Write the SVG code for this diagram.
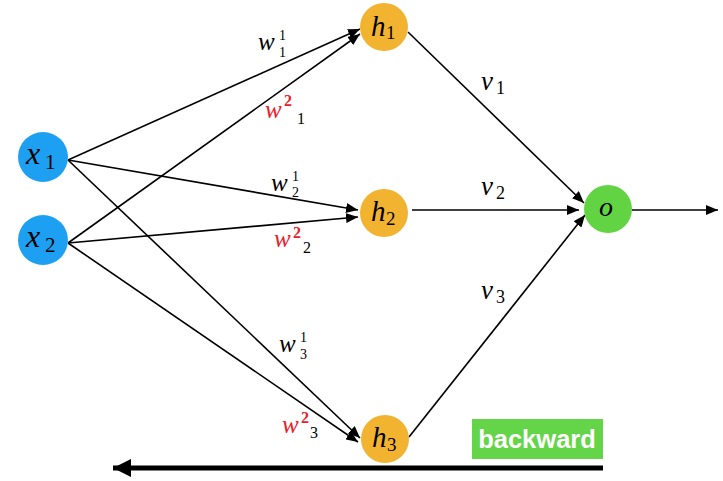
<svg xmlns="http://www.w3.org/2000/svg" width="723" height="481" viewBox="0 0 723 481">
<defs>
<marker id="ah" markerUnits="userSpaceOnUse" markerWidth="12" markerHeight="10" refX="12" refY="5" orient="auto">
<path d="M0,0 L12,5 L0,10 Z" fill="#000"/>
</marker>
<marker id="bh" markerUnits="userSpaceOnUse" markerWidth="18" markerHeight="18" refX="18" refY="9" orient="auto">
<path d="M0,0 L18,9 L0,18 Z" fill="#000"/>
</marker>
<style>
.e{stroke:#000;stroke-width:1.6;fill:none;marker-end:url(#ah)}
.m{font-family:"Liberation Serif","DejaVu Serif",serif;font-style:italic;fill:#000}
.d{font-family:"Liberation Serif","DejaVu Serif",serif;fill:#000}
.r{fill:#e8202a}
.in{fill:#1ea0f2}
.hid{fill:#f2b330}
.out{fill:#62d444}
</style>
</defs>
<rect width="723" height="481" fill="#fff"/>
<g id="connectors">
<line class="e" x1="68" y1="160" x2="360" y2="29"/>
<line class="e" x1="68" y1="243" x2="360" y2="34"/>
<line class="e" x1="68" y1="160" x2="358" y2="210"/>
<line class="e" x1="68" y1="243" x2="358" y2="217"/>
<line class="e" x1="68" y1="160" x2="360" y2="438"/>
<line class="e" x1="68" y1="243" x2="358" y2="442"/>
<line class="e" x1="408" y1="32" x2="584" y2="203"/>
<line class="e" x1="412" y1="210" x2="579" y2="210"/>
<line class="e" x1="409" y1="437" x2="585" y2="215"/>
<line class="e" x1="632" y1="210" x2="718" y2="210"/>
<line x1="603" y1="468" x2="113" y2="468" stroke="#000" stroke-width="5" marker-end="url(#bh)"/>
</g>
<g id="labels">
<text class="m" x="258" y="50" font-size="25">w</text><text class="d" x="279" y="40" font-size="14">1</text><text class="d" x="279" y="57" font-size="14">1</text>
<text class="m r" x="265" y="118" font-size="25">w</text><text class="d r" x="284" y="106" font-size="16" font-weight="bold">2</text><text class="d" x="297" y="124" font-size="16">1</text>
<text class="m" x="271" y="191" font-size="25">w</text><text class="d" x="292" y="181" font-size="14">1</text><text class="d" x="292" y="197" font-size="14">2</text>
<text class="m r" x="274" y="247" font-size="25">w</text><text class="d r" x="293" y="238" font-size="16" font-weight="bold">2</text><text class="d" x="303" y="253" font-size="16">2</text>
<text class="m" x="279" y="352" font-size="25">w</text><text class="d" x="300" y="342" font-size="14">1</text><text class="d" x="300" y="359" font-size="14">3</text>
<text class="m r" x="282" y="433" font-size="25">w</text><text class="d r" x="301" y="423" font-size="16" font-weight="bold">2</text><text class="d" x="310" y="438" font-size="16">3</text>
<text class="m" x="481" y="90" font-size="27">v</text><text class="d" x="496" y="94" font-size="18">1</text>
<text class="m" x="481" y="195" font-size="27">v</text><text class="d" x="496" y="199" font-size="18">2</text>
<text class="m" x="481" y="299" font-size="27">v</text><text class="d" x="496" y="303" font-size="18">3</text>
</g>
<g id="x1"><circle class="in" cx="43" cy="157" r="25"/><text class="m" x="26" y="164" font-size="32">x</text><text class="d" x="45" y="169" font-size="21">1</text></g>
<g id="x2"><circle class="in" cx="43" cy="240" r="25"/><text class="m" x="26" y="247" font-size="32">x</text><text class="d" x="45" y="252" font-size="21">2</text></g>
<g id="h1"><circle class="hid" cx="384" cy="27" r="24"/><text class="m" x="371" y="36" font-size="29">h</text><text class="d" x="386" y="39" font-size="19">1</text></g>
<g id="h2"><circle class="hid" cx="384" cy="213" r="24"/><text class="m" x="371" y="221" font-size="29">h</text><text class="d" x="386" y="225" font-size="19">2</text></g>
<g id="h3"><circle class="hid" cx="385" cy="439" r="24"/><text class="m" x="372" y="447" font-size="29">h</text><text class="d" x="387" y="451" font-size="19">3</text></g>
<g id="o"><circle class="out" cx="608" cy="209" r="24"/><text class="m" x="599" y="216" font-size="28">o</text></g>
<g id="backward"><rect x="472" y="419" width="131" height="40" fill="#64d448"/><text x="537" y="448" text-anchor="middle" font-family="Liberation Sans,Arial,sans-serif" font-weight="bold" font-size="25.5" fill="#fff">backward</text></g>
</svg>
